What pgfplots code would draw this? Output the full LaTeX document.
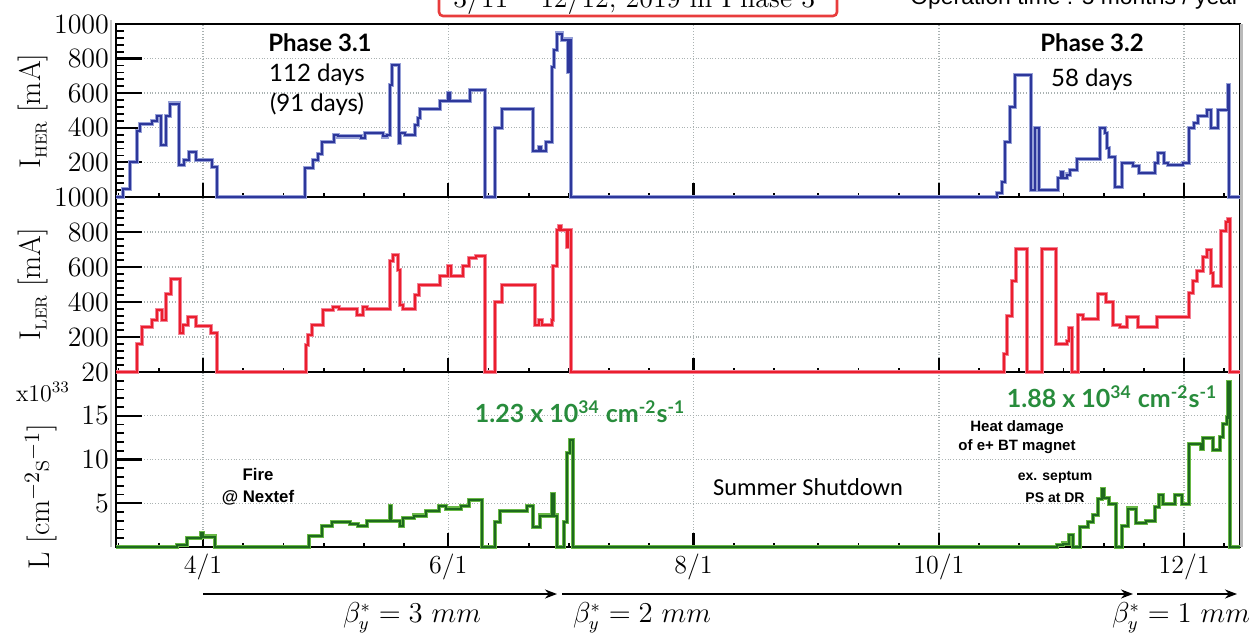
\documentclass[border=0pt]{standalone}
\usepackage{pgfplots}
\pgfplotsset{compat=1.18}
\usepackage{fontspec}
\newfontfamily\lato{Lato}
\newfontfamily\arialf{Liberation Sans}
\newfontfamily\calib{Carlito}
\usetikzlibrary{arrows.meta}
\definecolor{herblue}{RGB}{45,55,155}
\definecolor{herlight}{RGB}{150,160,215}
\definecolor{lerred}{RGB}{235,30,45}
\definecolor{lerlight}{RGB}{242,130,150}
\definecolor{ldark}{RGB}{30,105,30}
\definecolor{llight}{RGB}{105,185,70}
\definecolor{anngreen}{RGB}{40,140,60}
\definecolor{boxred}{RGB}{232,60,60}
\definecolor{gridgray}{RGB}{170,178,178}

\pgfplotsset{
  panel/.style={
    scale only axis, width=562pt,
    xmin=68.36, xmax=347.9,
    xtick={90,151,212,273,334},
    minor xtick={69,79,100,110,120,130,140,161,171,181,191,201,222,232,243,253,263,283,293,304,314,324,344},
    xticklabels={},
    tick align=inside,
    tick pos=left,
    xmajorgrids, ymajorgrids,
    major grid style={densely dotted, color=gridgray, line width=0.7pt},
    axis line style={line width=1.1pt, black},
    major tick length=13pt, minor tick length=4pt,
    xtick style={/pgfplots/major tick length=7pt, /pgfplots/minor tick length=2pt},
    every tick/.style={black, line width=1.1pt},
    minor tick style={line width=0.9pt},
    minor y tick num=4,
    yticklabel style={font=\fontsize{14}{14}\selectfont},
    /pgf/number format/1000 sep={},
    clip=false,
    every axis plot/.append style={no marks, const plot},
  },
  shadow/.style={line width=2.1pt, color=#1},
  main/.style={line width=1.0pt, color=#1},
}

\begin{document}
\begin{tikzpicture}[x=0.5pt,y=-0.5pt]
\useasboundingbox (0,0) rectangle (1251,635);

% ---------- bottom panel: luminosity ----------
\begin{axis}[panel, at={(58pt,-273.5pt)}, anchor=south west, height=87.5pt,
  ymin=0, ymax=20, ytick={0,5,10,15,20}, yticklabels={,5,10,15,20},
  xticklabels={4/1,6/1,8/1,10/1,12/1},
  xticklabel style={font=\fontsize{13}{13}\selectfont}]
\pgfplotstableread{
d L
68.4 0
83.5 0.2
86.0 1.0
89.5 1.6
90.0 1.2
93.0 0
116.4 1.3
119.6 2.4
122.1 2.9
126.6 2.6
128.6 2.4
130.8 3.0
136.5 4.7
136.8 3.0
139.0 2.4
139.7 3.3
142.5 3.6
145.5 4.1
148.7 4.7
150.4 4.4
154.2 4.7
156.2 5.4
159.4 0
162.6 2.9
163.9 4.1
170.6 4.7
172.1 2.3
173.8 3.6
176.8 6.1
177.3 3.6
178.0 0
179.8 2.9
180.5 10.7
181.3 12.2
182.0 0
302.4 0.2
303.9 0.4
305.4 1.4
306.4 0
308.1 2.3
310.1 2.9
311.3 3.7
312.6 5.5
313.6 6.6
314.1 5.6
315.3 4.9
317.1 0
318.6 2.4
320.1 4.4
322.0 2.7
324.5 3.0
326.8 4.6
327.8 5.9
328.8 4.9
331.7 5.9
333.5 4.9
335.2 11.8
338.2 11.2
338.7 12.5
341.2 11.1
342.9 12.6
343.7 14.1
344.7 14.8
344.9 18.8
345.4 0
347.9 0
}\lumi
\addplot[shadow=llight] table[x=d,y=L] {\lumi};
\addplot[main=ldark] table[x=d,y=L] {\lumi};
\end{axis}

% ---------- middle panel: LER ----------
\begin{axis}[panel, at={(58pt,-186pt)}, anchor=south west, height=87.5pt,
  ymin=0, ymax=1000, ytick={0,200,400,600,800,1000}, yticklabels={,200,400,600,800,1000}]
\pgfplotstableread{
d I
68.4 0
73.6 160
74.8 257
77.3 297
78.6 354
79.8 297
80.8 446
82.0 531
84.3 223
85.0 269
86.3 314
88.3 263
92.0 223
93.5 0
115.6 154
116.1 211
117.1 269
119.8 354
122.3 371
123.8 360
128.3 326
129.8 371
130.8 360
136.5 634
137.3 669
138.5 583
139.0 383
139.7 360
142.7 440
143.7 497
148.9 549
150.9 606
151.7 549
154.7 606
156.2 651
157.9 663
160.1 0
162.6 400
164.4 497
172.6 269
173.6 297
174.3 269
176.8 297
177.1 606
178.0 811
178.5 834
179.0 811
180.5 714
180.8 811
181.5 0
289.2 103
290.0 320
291.2 520
292.2 703
294.9 0
298.7 703
302.1 160
304.9 179
305.4 251
306.1 0
307.6 326
308.9 301
312.6 446
314.6 400
316.3 269
318.1 255
319.8 314
322.5 255
327.3 314
335.2 451
336.2 520
337.2 577
338.7 657
339.7 697
340.7 566
341.2 491
343.2 806
344.4 857
344.9 874
345.4 0
347.9 0
}\ler
\addplot[shadow=lerlight] table[x=d,y=I] {\ler};
\addplot[main=lerred] table[x=d,y=I] {\ler};
\end{axis}

% ---------- top panel: HER ----------
\begin{axis}[panel, at={(58pt,-98.5pt)}, anchor=south west, height=86.5pt,
  ymin=0, ymax=1000, ytick={0,200,400,600,800,1000}, yticklabels={,200,400,600,800,1000}]
\pgfplotstableread{
d I
68.4 0
70.1 45
71.8 200
73.6 380
74.3 420
77.3 440
78.6 470
79.6 300
80.8 470
81.8 540
84.0 185
85.3 214
86.5 260
88.3 214
92.2 175
93.5 0
115.4 167
117.4 214
118.6 249
119.6 318
122.6 358
123.6 350
129.3 340
130.3 370
134.8 350
135.8 360
136.5 647
137.0 763
138.7 312
139.0 370
140.2 358
142.7 416
143.5 456
144.0 508
148.9 555
150.9 600
151.4 555
156.4 618
160.1 0
162.6 399
164.4 508
172.1 268
173.6 290
174.1 268
175.3 318
176.8 750
177.3 850
178.0 945
179.3 910
180.8 723
181.2 910
181.5 0
287.5 23
288.7 87
289.5 318
290.7 520
292.0 705
295.9 40
296.9 399
297.9 40
302.6 110
303.4 145
303.9 110
304.9 130
305.6 155
307.4 220
313.1 399
314.3 370
314.8 283
315.3 231
316.8 58
318.6 196
321.3 180
322.8 139
326.8 196
327.5 254
329.0 196
330.0 185
333.7 196
335.2 399
336.5 428
337.5 468
339.7 503
340.7 399
342.4 503
344.9 647
345.2 0
347.9 0
}\her
\addplot[shadow=herlight] table[x=d,y=I] {\her};
\addplot[main=herblue] table[x=d,y=I] {\her};
\end{axis}

% ---------- frame decorations ----------
\draw[gray!45, line width=1.4pt] (111,20) -- (111,547);
\draw[gray!55, line width=1.6pt] (1241.5,24) -- (1241.5,547);

% ---------- header ----------
\draw[boxred, line width=1.3pt, rounded corners=2pt] (439,-30) rectangle (837,16);
\node[anchor=base west, inner sep=0, font=\fontsize{14}{14}\selectfont] at (453,8) {3/11 -- 12/12, 2019 in Phase 3};
\node[anchor=base west, inner sep=0, font=\arialf\fontsize{11.45}{12}\selectfont] at (910,5) {Operation time : 5 months / year};

% ---------- axis titles ----------
\node[rotate=90, inner sep=0, font=\fontsize{15}{15}\selectfont] at (33,111) {I\raisebox{-3pt}{\fontsize{8}{8}\selectfont HER} [mA]};
\node[rotate=90, inner sep=0, font=\fontsize{15}{15}\selectfont] at (33,284) {I\raisebox{-3pt}{\fontsize{8}{8}\selectfont LER} [mA]};
\node[rotate=90, inner sep=0, font=\fontsize{15}{15}\selectfont] at (41,497) {L [cm$^{-2}$s$^{-1}$]};
\node[inner sep=0, font=\fontsize{12}{12}\selectfont] at (43,392) {x10$^{33}$};

% ---------- annotations ----------
\node[inner sep=0, font=\lato\bfseries\fontsize{12}{12}\selectfont] at (320,43) {Phase 3.1};
\node[inner sep=0, font=\lato\fontsize{12}{12}\selectfont] at (317,75) {112 days};
\node[inner sep=0, font=\lato\fontsize{12}{12}\selectfont] at (317,104) {(91 days)};
\node[inner sep=0, font=\lato\bfseries\fontsize{12}{12}\selectfont] at (1092,43) {Phase 3.2};
\node[inner sep=0, font=\lato\fontsize{12}{12}\selectfont] at (1092,80) {58 days};

\node[inner sep=0, font=\arialf\bfseries\fontsize{8.4}{9}\selectfont] at (258,474) {Fire};
\node[inner sep=0, font=\arialf\bfseries\fontsize{8.4}{9}\selectfont] at (258,498) {@ Nextef};
\node[inner sep=0, text=anngreen, font=\lato\bfseries\fontsize{12.5}{13}\selectfont] at (580,412) {1.23 x 10\textsuperscript{34} cm\textsuperscript{-2}s\textsuperscript{-1}};
\node[inner sep=0, text=anngreen, font=\lato\bfseries\fontsize{12.5}{13}\selectfont] at (1112,397) {1.88 x 10\textsuperscript{34} cm\textsuperscript{-2}s\textsuperscript{-1}};
\node[inner sep=0, font=\calib\fontsize{12.2}{13}\selectfont] at (808,487) {Summer Shutdown};
\node[inner sep=0, font=\arialf\bfseries\fontsize{7.5}{8}\selectfont] at (1017,428) {Heat damage};
\node[inner sep=0, font=\arialf\bfseries\fontsize{7.5}{8}\selectfont] at (1017,447) {of e+ BT magnet};
\node[inner sep=0, font=\arialf\bfseries\fontsize{7}{8}\selectfont] at (1055,477) {ex. septum};
\node[inner sep=0, font=\arialf\bfseries\fontsize{7}{8}\selectfont] at (1055,498) {PS at DR};

% ---------- beta* arrows ----------
\draw[line width=1pt, -{Stealth[length=6pt,width=4.5pt]}] (203,594) -- (557,594);
\draw[line width=1pt, -{Stealth[length=6pt,width=4.5pt]}] (562,594) -- (1133,594);
\draw[line width=1pt, -{Stealth[length=6pt,width=4.5pt]}] (1137,594) -- (1237,594);
\node[inner sep=0, font=\fontsize{13.5}{14}\selectfont] at (412,618) {$\beta_y^* = 3\ mm$};
\node[inner sep=0, font=\fontsize{13.5}{14}\selectfont] at (642,618) {$\beta_y^* = 2\ mm$};
\node[inner sep=0, font=\fontsize{13.5}{14}\selectfont] at (1181,618) {$\beta_y^* = 1\ mm$};
\end{tikzpicture}
\end{document}
